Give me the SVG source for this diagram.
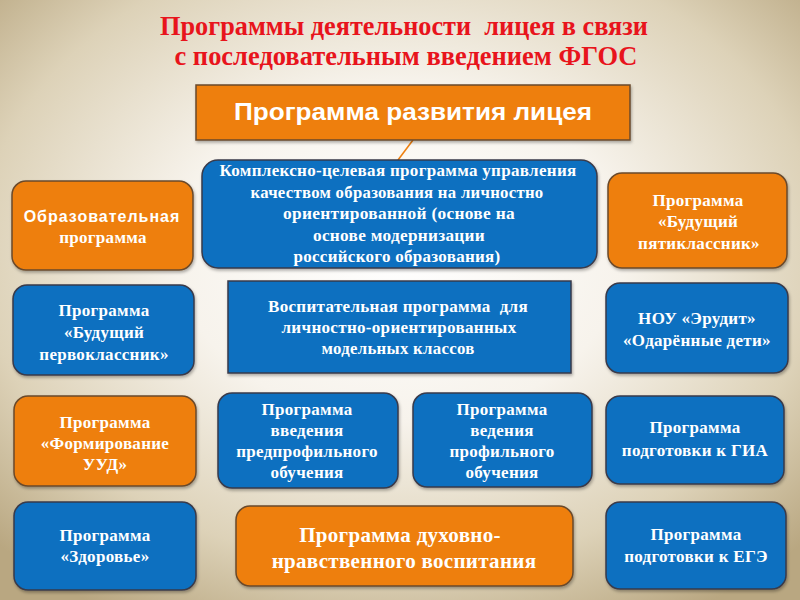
<svg xmlns="http://www.w3.org/2000/svg" width="800" height="600" viewBox="0 0 800 600">
<defs>
<radialGradient id="bg" cx="50%" cy="42%" r="70%">
<stop offset="0" stop-color="#ffffff"/>
<stop offset="0.4" stop-color="#f7f3ec"/>
<stop offset="0.75" stop-color="#ddd2b8"/>
<stop offset="1" stop-color="#b9a781"/>
</radialGradient>
<filter id="sh" x="-10%" y="-10%" width="120%" height="130%">
<feDropShadow dx="1" dy="2" stdDeviation="1.5" flood-color="#000" flood-opacity="0.3"/>
</filter>
</defs>
<style>
.o{fill:#ee7f0f;stroke:#6a4a2c;stroke-width:1.5;filter:url(#sh)}
.b{fill:#0770c0;stroke:#3a3a4a;stroke-width:1.5;filter:url(#sh)}
.t{font-family:"Liberation Serif","Times New Roman",serif;font-weight:bold;font-size:17px;letter-spacing:0.3px;fill:#fff;text-anchor:middle;white-space:pre}
.big{font-size:21px;letter-spacing:0.3px}
.s{font-family:"Liberation Sans",Arial,sans-serif;font-weight:bold;fill:#fff;text-anchor:middle}
.title{font-family:"Liberation Serif","Times New Roman",serif;font-weight:bold;font-size:28px;fill:#e8141c;text-anchor:middle;white-space:pre}
</style>
<rect width="800" height="600" fill="url(#bg)"/>
<g id="title">
<text class="title" x="404" y="35" textLength="488" lengthAdjust="spacingAndGlyphs">Программы деятельности  лицея в связи</text>
<text class="title" x="406" y="65" textLength="463" lengthAdjust="spacingAndGlyphs">с последовательным введением ФГОС</text>
</g>
<g id="connectors">
<line x1="413" y1="140" x2="398" y2="160" stroke="#ee7f0f" stroke-width="1.5"/>
</g>
<g id="n-razvitie">
<rect class="o" x="196" y="85" width="434" height="55"/>
<text class="s" x="413" y="120" font-size="24" textLength="358" lengthAdjust="spacingAndGlyphs">Программа развития лицея</text>
</g>
<g id="n-kompleks">
<rect class="b" x="202" y="160" width="395" height="108" rx="16"/>
<text class="t" x="398" y="176" textLength="357" lengthAdjust="spacingAndGlyphs">Комплексно-целевая программа управления</text>
<text class="t" x="397" y="198" textLength="293" lengthAdjust="spacingAndGlyphs">качеством образования на личностно</text>
<text class="t" x="399" y="219" textLength="232" lengthAdjust="spacingAndGlyphs">ориентированной (основе на</text>
<text class="t" x="399" y="241" textLength="172" lengthAdjust="spacingAndGlyphs">основе модернизации</text>
<text class="t" x="397" y="262" textLength="207" lengthAdjust="spacingAndGlyphs">российского образования)</text>
</g>
<g id="n-obraz">
<rect class="o" x="12" y="181" width="181" height="89" rx="14"/>
<text class="s" x="102" y="222" font-size="16" letter-spacing="1">Образовательная</text>
<text class="t" x="103" y="243">программа</text>
</g>
<g id="n-perv">
<rect class="b" x="13" y="285" width="181" height="90" rx="14"/>
<text class="t" x="104" y="316">Программа</text>
<text class="t" x="104" y="338">«Будущий</text>
<text class="t" x="104" y="360">первоклассник»</text>
</g>
<g id="n-uud">
<rect class="o" x="14" y="396" width="182" height="90" rx="14"/>
<text class="t" x="105" y="428">Программа</text>
<text class="t" x="105" y="449">«Формирование</text>
<text class="t" x="105" y="470">УУД»</text>
</g>
<g id="n-zdor">
<rect class="b" x="14" y="502" width="182" height="88" rx="14"/>
<text class="t" x="105" y="541">Программа</text>
<text class="t" x="105" y="562">«Здоровье»</text>
</g>
<g id="n-pyat">
<rect class="o" x="608" y="173" width="179" height="95" rx="14"/>
<text class="t" x="698" y="206">Программа</text>
<text class="t" x="698" y="227">«Будущий</text>
<text class="t" x="699" y="249">пятиклассник»</text>
</g>
<g id="n-nou">
<rect class="b" x="606" y="283" width="182" height="90" rx="14"/>
<text class="t" x="697" y="324">НОУ «Эрудит»</text>
<text class="t" x="697" y="346">«Одарённые дети»</text>
</g>
<g id="n-gia">
<rect class="b" x="606" y="396" width="178" height="88" rx="14"/>
<text class="t" x="695" y="433">Программа</text>
<text class="t" x="695" y="456">подготовки к ГИА</text>
</g>
<g id="n-ege">
<rect class="b" x="606" y="502" width="180" height="87" rx="14"/>
<text class="t" x="696" y="540">Программа</text>
<text class="t" x="696" y="562">подготовки к ЕГЭ</text>
</g>
<g id="n-vosp">
<rect class="b" x="228" y="281" width="343" height="92"/>
<text class="t" x="398" y="312" textLength="260" lengthAdjust="spacingAndGlyphs">Воспитательная программа  для</text>
<text class="t" x="399" y="333" textLength="235" lengthAdjust="spacingAndGlyphs">личностно-ориентированных</text>
<text class="t" x="398" y="354" textLength="153" lengthAdjust="spacingAndGlyphs">модельных классов</text>
</g>
<g id="n-predprof">
<rect class="b" x="218" y="393" width="180" height="95" rx="14"/>
<text class="t" x="307" y="415">Программа</text>
<text class="t" x="307" y="436">введения</text>
<text class="t" x="307" y="457">предпрофильного</text>
<text class="t" x="307" y="478">обучения</text>
</g>
<g id="n-prof">
<rect class="b" x="413" y="393" width="179" height="94" rx="14"/>
<text class="t" x="502" y="415">Программа</text>
<text class="t" x="502" y="436">ведения</text>
<text class="t" x="502" y="457">профильного</text>
<text class="t" x="502" y="478">обучения</text>
</g>
<g id="n-duh">
<rect class="o" x="236" y="506" width="337" height="80" rx="14"/>
<text class="t big" x="400" y="542">Программа духовно-</text>
<text class="t big" x="404" y="568">нравственного воспитания</text>
</g>
</svg>
